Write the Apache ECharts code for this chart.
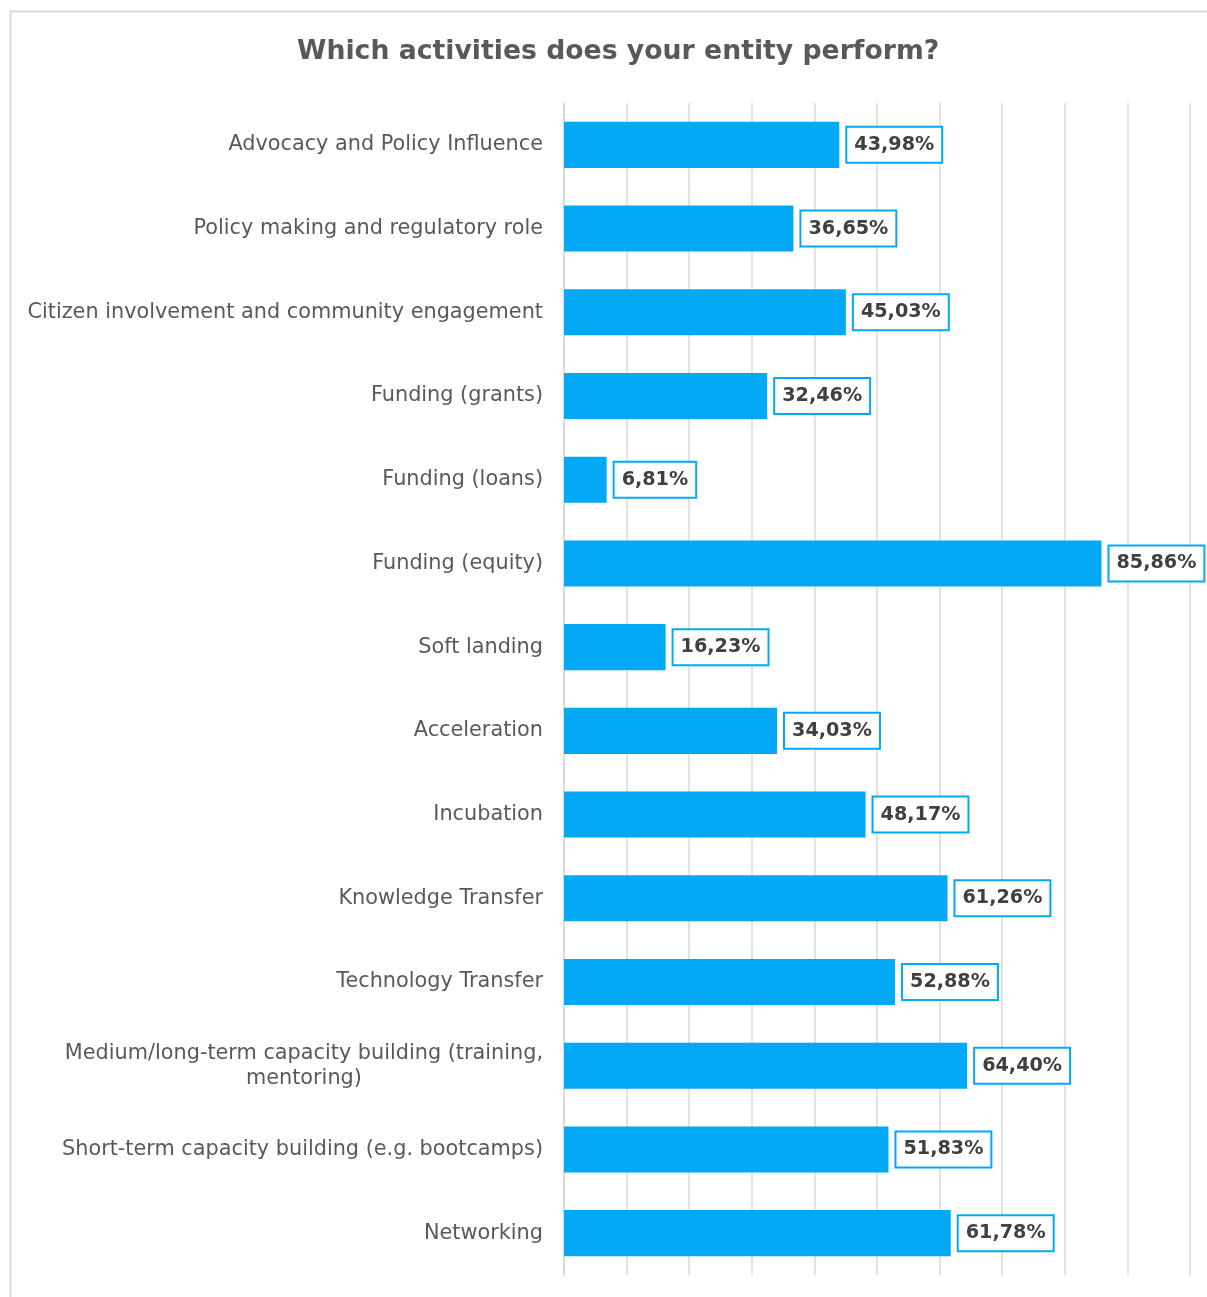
<!DOCTYPE html>
<html>
<head>
<meta charset="utf-8">
<style>
  html, body { margin: 0; padding: 0; background: #ffffff; }
  #chart { width: 1207px; height: 1297px; }
</style>
<script src="https://cdn.jsdelivr.net/npm/echarts@6/dist/echarts.min.js"></script>
</head>
<body>
<div id="chart"></div>
<script>
// Survey answers: share of entities performing each activity (%)
const titleText = 'Which activities does your entity perform?';
const categories = [
  'Advocacy and Policy Influence',
  'Policy making and regulatory role',
  'Citizen involvement and community engagement',
  'Funding (grants)',
  'Funding (loans)',
  'Funding (equity)',
  'Soft landing',
  'Acceleration',
  'Incubation',
  'Knowledge Transfer',
  'Technology Transfer',
  'Medium/long-term capacity building (training,\nmentoring)',
  'Short-term capacity building (e.g. bootcamps)',
  'Networking'
];
const shares = [43.98, 36.65, 45.03, 32.46, 6.81, 85.86, 16.23, 34.03, 48.17, 61.26, 52.88, 64.40, 51.83, 61.78];
const axisMax = 100;
const axisStep = 10;

const FONT = 'DejaVu Sans';
const BLUE = '#03A9F4';

const chart = echarts.init(document.getElementById('chart'), null, { renderer: 'canvas' });

chart.setOption({
  backgroundColor: '#ffffff',
  animation: false,
  title: {
    text: titleText,
    left: 292,
    top: 34,
    textStyle: { fontFamily: FONT, fontSize: 26.7, fontWeight: 'bold', color: '#595959' }
  },
  graphic: [{
    type: 'rect',
    left: 8, top: 9,
    shape: { width: 1400, height: 1400 },
    style: { fill: 'none', stroke: '#d9d9d9', lineWidth: 2 },
    silent: true
  }],
  grid: { left: 564, right: 17, top: 103, bottom: 22, containLabel: false },
  xAxis: {
    type: 'value',
    min: 0,
    max: axisMax,
    interval: axisStep,
    axisLabel: { show: false },
    axisLine: { show: false },
    axisTick: { show: false },
    splitLine: { show: true, lineStyle: { color: '#d9d9d9', width: 1.5 } }
  },
  yAxis: {
    type: 'category',
    data: categories,
    inverse: true,
    axisLine: { show: true, lineStyle: { color: '#d9d9d9', width: 1.5 } },
    axisTick: { show: false },
    axisLabel: {
      margin: 21,
      formatter: function (v) {
        return v.split('\n').map(function (line) { return '{c|' + line + '}'; }).join('\n');
      },
      rich: {
        c: { fontFamily: FONT, fontSize: 20.8, color: '#595959', align: 'center', lineHeight: 25 }
      }
    }
  },
  series: [{
    type: 'bar',
    data: shares,
    barCategoryGap: '45%',
    itemStyle: { color: BLUE },
    label: {
      show: true,
      position: 'right',
      distance: 8,
      formatter: function (p) { return p.value.toFixed(2).replace('.', ',') + '%'; },
      fontFamily: FONT,
      fontSize: 19.2,
      fontWeight: 'bold',
      color: '#404040',
      backgroundColor: '#ffffff',
      borderColor: BLUE,
      borderWidth: 2,
      padding: [8, 7, 7, 7]
    }
  }]
});
</script>
</body>
</html>
